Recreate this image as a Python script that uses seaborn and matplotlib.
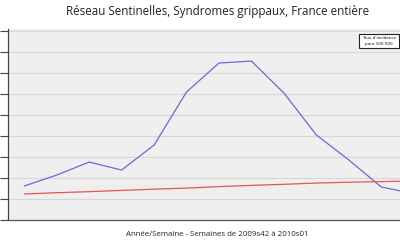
import matplotlib
matplotlib.use("Agg")
import matplotlib.pyplot as plt
import seaborn as sns
import pandas as pd

weeks = ["2009s42", "2009s43", "2009s44", "2009s45", "2009s46", "2009s47", "2009s48",
         "2009s49", "2009s50", "2009s51", "2009s52", "2009s53", "2010s01"]
incidence = [162, 214, 276, 238, 357, 610, 748, 757, 605, 405, 286, 157, 126]
seuil = [124, 130, 135, 141, 147, 152, 159, 165, 170, 176, 180, 183, 186]

df = pd.DataFrame({"idx": list(range(len(weeks))), "week": weeks,
                   "incidence": incidence, "seuil": seuil})

sns.set_theme(style="whitegrid")
plt.rcParams['font.family'] = ['Open Sans', 'DejaVu Sans']

fig = plt.figure(figsize=(4, 2.4), dpi=100)
fig.patch.set_facecolor("white")
ax = fig.add_axes([8/400, 20/240, 422/400, 191/240])
ax.set_facecolor("#efefef")

sns.lineplot(data=df, x="idx", y="incidence", ax=ax, color="#6a6ad0", linewidth=0.9)
sns.lineplot(data=df, x="idx", y="seuil", ax=ax, color="#e05858", linewidth=0.9)

ax.set_xlim(-0.5, 12.5)
ax.set_ylim(0, 910)
ax.set_yticks(range(0, 1000, 100))
ax.set_yticklabels([])
ax.set_xticks([])
ax.set_xlabel("")
ax.set_ylabel("")
ax.grid(axis="y", color="#d6d6d6", linewidth=0.8)
ax.grid(axis="x", visible=False)
ax.tick_params(axis="y", direction="out", length=6, width=0.8, color="#444444", left=True)
for s in ["top", "right"]:
    ax.spines[s].set_visible(False)
ax.spines["left"].set_color("#444444")
ax.spines["left"].set_linewidth(0.9)
ax.spines["bottom"].set_color("#555555")
ax.spines["bottom"].set_linewidth(0.9)

fig.text(218/400, 1 - 11/240, "Réseau Sentinelles, Syndromes grippaux, France entière",
         ha="center", va="center", fontsize=8.4, color="#222222")
fig.text(217/400, 1 - 235/240, "Année/Semaine - Semaines de 2009s42 à 2010s01",
         ha="center", va="center", fontsize=5.7, color="#222222")
fig.text(379/400, 1 - 41/240, "Taux d'incidence\npour 100 000",
         ha="center", va="center", fontsize=3.0, color="#111111",
         family=["DejaVu Sans"], linespacing=1.4,
         bbox=dict(boxstyle="square,pad=0.6", facecolor="white", edgecolor="#222222", linewidth=0.8))

fig.savefig("out.png", dpi=100)
